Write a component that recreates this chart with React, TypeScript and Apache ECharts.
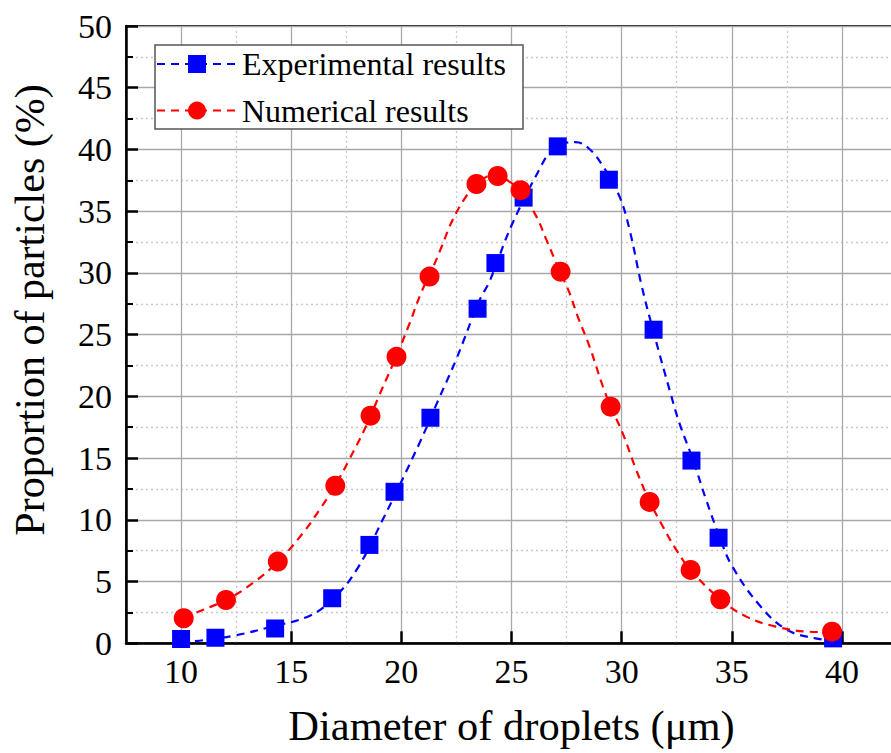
import React, { useEffect, useRef } from "react";
import * as echarts from "echarts";

// Measured points (diameter µm, proportion %)
const expX = [10.0, 11.56, 14.27, 16.86, 18.55, 19.69, 21.32, 23.46, 24.27, 25.55, 27.1, 29.42, 31.45, 33.17, 34.4, 39.6];
const expY = [0.35, 0.45, 1.2, 3.65, 7.97, 12.27, 18.27, 27.1, 30.8, 36.1, 40.25, 37.55, 25.4, 14.8, 8.55, 0.4];
const numX = [10.12, 12.04, 14.39, 17.0, 18.6, 19.78, 21.28, 23.41, 24.37, 25.41, 27.23, 29.5, 31.27, 33.13, 34.48, 39.55];
const numY = [2.03, 3.51, 6.62, 12.76, 18.44, 23.2, 29.7, 37.2, 37.85, 36.7, 30.1, 19.17, 11.45, 5.94, 3.57, 0.94];

// Fitted (dashed) curves
const expFitX = [10.0, 11.0, 12.5, 14.0, 15.8, 16.9, 17.95, 19.15, 20.82, 21.65, 22.49, 23.55, 24.0, 24.99, 26.27, 26.73, 27.4, 27.9, 28.5, 29.15, 29.9, 30.36, 30.89, 31.42, 32.18, 32.63, 33.23, 33.84, 34.44, 35.0, 36.3, 37.5, 38.8, 39.8];
const expFitY = [0.08, 0.25, 0.65, 1.3, 2.2, 3.6, 5.9, 10.0, 16.2, 19.6, 23.0, 27.8, 29.3, 33.8, 38.4, 39.7, 40.5, 40.6, 40.1, 38.65, 36.2, 33.5, 29.1, 25.4, 20.5, 17.8, 14.9, 11.6, 8.65, 6.3, 3.0, 1.1, 0.4, 0.2];
const numFitX = [10.12, 10.98, 12.04, 13.25, 14.39, 15.52, 16.28, 17.0, 17.64, 18.4, 19.0, 19.76, 20.37, 20.9, 21.4, 21.8, 22.33, 22.94, 23.41, 24.2, 24.9, 25.41, 26.12, 26.58, 27.2, 27.63, 28.0, 28.54, 29.15, 29.5, 30.05, 30.66, 31.27, 31.87, 32.48, 33.13, 34.48, 35.66, 37.0, 38.5, 39.55];
const numFitY = [2.03, 2.7, 3.5, 4.87, 6.6, 8.9, 10.8, 12.8, 14.9, 17.6, 20.1, 23.2, 25.9, 28.4, 30.3, 32.0, 34.3, 36.2, 37.2, 37.95, 37.4, 36.6, 34.6, 32.7, 30.1, 28.4, 26.5, 24.05, 20.8, 19.2, 17.0, 14.05, 11.5, 9.46, 7.57, 5.94, 3.57, 2.16, 1.35, 0.94, 0.9];

const seriesNames = ["Experimental results", "Numerical results"];
const xTitle = "Diameter of droplets (μm)";
const yTitle = "Proportion of particles (%)";

const FONT = "'Liberation Serif', 'Times New Roman', serif";
const BLUE = "#0000ff";
const RED = "#ff0000";

const pairs = (xs: number[], ys: number[]) => xs.map((x, i) => [x, ys[i]]);

export default function App() {
  const ref = useRef<HTMLDivElement>(null);
  useEffect(() => {
    document.body.style.margin = "0";
    document.body.style.overflow = "hidden";
    document.documentElement.style.overflow = "hidden";
    const chart = echarts.init(ref.current!, null, { renderer: "svg" });
    const dash = [8, 6];
    chart.setOption({
      animation: false,
      backgroundColor: "#ffffff",
      grid: {
        left: 126,
        top: 26,
        width: 771,
        height: 617.3,
        show: true,
        borderColor: "#1a1a1a",
        borderWidth: 2,
        containLabel: false,
      },
      legend: {
        orient: "vertical",
        left: 156,
        top: 48,
        itemWidth: 80,
        itemHeight: 22.5,
        itemGap: 14.5,
        padding: 0,
        z: 11,
        textStyle: { fontFamily: FONT, fontSize: 32, color: "#000", lineHeight: 22.5 },
        data: seriesNames,
      },
      graphic: {
        elements: [
          {
            type: "rect",
            z: 10,
            shape: { x: 155, y: 45, width: 368, height: 84 },
            style: { fill: "#ffffff", stroke: "#555555", lineWidth: 1.5 },
          },
          {
            type: "text",
            x: 30,
            y: 310,
            rotation: Math.PI / 2,
            style: {
              text: yTitle,
              font: `42px ${FONT}`,
              fill: "#000",
              textAlign: "center",
              textVerticalAlign: "middle",
            },
          },
        ],
      },
      xAxis: {
        type: "value",
        min: 7.5,
        max: 42.5,
        splitNumber: 7,
        name: xTitle,
        nameLocation: "middle",
        nameGap: 61,
        nameTextStyle: { fontFamily: FONT, fontSize: 42.5, color: "#000" },
        axisLine: { show: true, onZero: false, lineStyle: { color: "#000", width: 2.5 } },
        axisTick: { show: true, inside: true, length: 12, lineStyle: { color: "#000", width: 2.5 } },
        minorTick: { show: false, splitNumber: 2 },
        axisLabel: {
          fontFamily: FONT,
          fontSize: 34,
          color: "#000",
          margin: 11,
          showMinLabel: false,
          showMaxLabel: false,
        },
        splitLine: { show: true, lineStyle: { color: "#a8a8a8", width: 1.3 } },
        minorSplitLine: { show: true, lineStyle: { color: "#c8c8c8", width: 1.3, type: [2, 3] } },
      },
      yAxis: {
        type: "value",
        min: 0,
        max: 50,
        interval: 5,
        axisLine: { show: true, onZero: false, lineStyle: { color: "#000", width: 2.5 } },
        axisTick: { show: true, inside: true, length: 12, lineStyle: { color: "#000", width: 2.5 } },
        minorTick: { show: true, splitNumber: 2, length: 7, lineStyle: { color: "#000", width: 2 } },
        axisLabel: { fontFamily: FONT, fontSize: 34, color: "#000", margin: 14 },
        splitLine: { show: true, lineStyle: { color: "#a8a8a8", width: 1.3 } },
        minorSplitLine: { show: true, lineStyle: { color: "#c8c8c8", width: 1.3, type: [2, 3] } },
      },
      series: [
        {
          name: seriesNames[0],
          type: "line",
          data: pairs(expFitX, expFitY),
          smooth: 0.4,
          showSymbol: false,
          symbol: "rect",
          symbolSize: 18,
          itemStyle: { color: BLUE },
          lineStyle: { color: BLUE, width: 2.2, type: dash },
          z: 2,
        },
        {
          name: seriesNames[1],
          type: "line",
          data: pairs(numFitX, numFitY),
          smooth: 0.4,
          showSymbol: false,
          symbol: "circle",
          symbolSize: 20,
          itemStyle: { color: RED },
          lineStyle: { color: RED, width: 2.2, type: dash },
          z: 2,
        },
        {
          name: seriesNames[0],
          type: "scatter",
          data: pairs(expX, expY),
          symbol: "rect",
          symbolSize: 18,
          itemStyle: { color: BLUE, opacity: 1 },
          z: 3,
        },
        {
          name: seriesNames[1],
          type: "scatter",
          data: pairs(numX, numY),
          symbol: "circle",
          symbolSize: 20,
          itemStyle: { color: RED, opacity: 1 },
          z: 4,
        },
      ],
    });
    return () => chart.dispose();
  }, []);
  return (
    <div
      style={{ position: "absolute", left: 0, top: 0, width: 891, height: 753, overflow: "hidden" }}
    >
      <div ref={ref} style={{ width: 920, height: 753 }} />
    </div>
  );
}
